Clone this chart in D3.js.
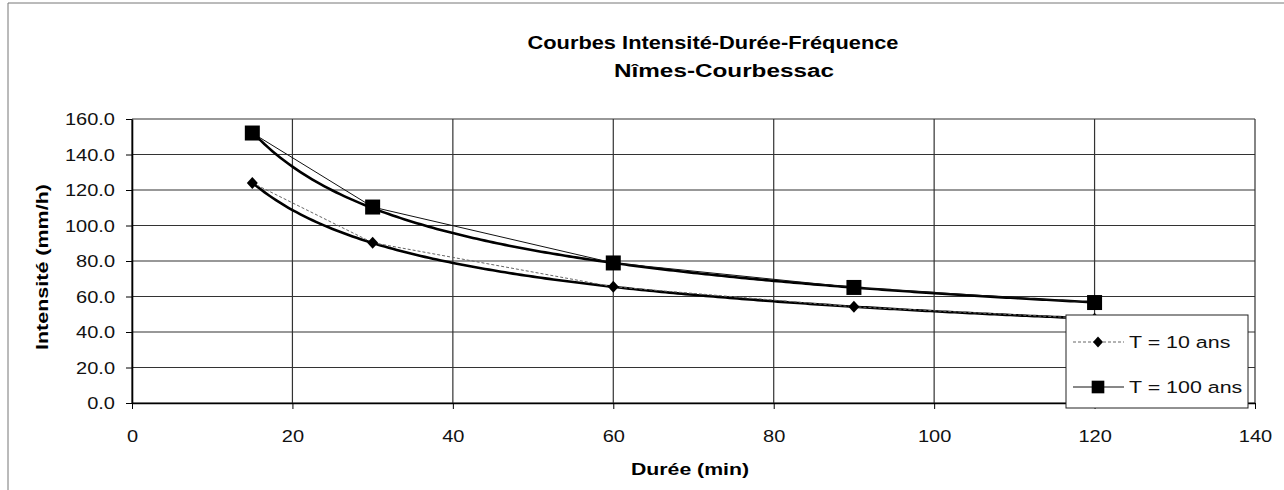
<!DOCTYPE html>
<html>
<head>
<meta charset="utf-8">
<script src="https://cdn.jsdelivr.net/npm/d3@7"></script>
<style>
  body { margin: 0; background: #fff; }
  svg { display: block; font-family: "Liberation Sans", Arial, sans-serif; }
</style>
</head>
<body>
<svg id="chart" width="1284" height="490"></svg>
<script>
'use strict';

// values
const durations = [15, 30, 60, 90, 120];
const intensityT10 = [124.0, 90.3, 65.5, 54.2, 47.5];
const intensityT100 = [152.1, 110.4, 78.9, 65.1, 56.6];
const seriesNames = ['T = 10 ans', 'T = 100 ans'];
const xTicks = [0, 20, 40, 60, 80, 100, 120, 140];
const yTicks = [0, 20, 40, 60, 80, 100, 120, 140, 160];

(function() {

const kStretch = 1.25;   // the printed font is wider than Arial

function PowerFit(xs, ys) {
  // least squares on ln(y) = ln(a) + b ln(x), like Excel's power trendline
  const lx = xs.map(Math.log);
  const ly = ys.map(Math.log);
  const mx = d3.mean(lx);
  const my = d3.mean(ly);
  const sxy = d3.sum(lx, function(v, i) { return (v - mx) * (ly[i] - my); });
  const sxx = d3.sum(lx, function(v) { return (v - mx) * (v - mx); });
  const b = sxy / sxx;
  const a = Math.exp(my - b * mx);
  return function(t) { return a * Math.pow(t, b); };
}

function DiamondPath(r) {
  return 'M0,' + (-r) + 'L' + (r - 0.5) + ',0L0,' + r + 'L' + (-(r - 0.5)) + ',0Z';
}

function Main() {
  const svg = d3.select('#chart');
  const left = 132, right = 1255, top = 119, bottom = 403;

  const x = d3.scaleLinear().domain([0, 140]).range([left, right]);
  const y = d3.scaleLinear().domain([0, 160]).range([bottom, top]);

  // outer chart frame (only top and left are inside the scan)
  svg.append('path')
      .attr('d', 'M8,490V3H1284')
      .attr('fill', 'none')
      .attr('stroke', '#777')
      .attr('stroke-width', 1);

  // titles
  svg.append('text')
      .attr('x', 713).attr('y', 49)
      .attr('text-anchor', 'middle')
      .attr('font-size', 18).attr('font-weight', 'bold')
      .attr('textLength', 371).attr('lengthAdjust', 'spacingAndGlyphs')
      .text('Courbes Intensité-Durée-Fréquence');
  svg.append('text')
      .attr('x', 724).attr('y', 77)
      .attr('text-anchor', 'middle')
      .attr('font-size', 18).attr('font-weight', 'bold')
      .attr('textLength', 220).attr('lengthAdjust', 'spacingAndGlyphs')
      .text('Nîmes-Courbessac');

  // grid
  svg.append('g').selectAll('line')
      .data(yTicks)
    .enter().append('line')
      .attr('x1', left).attr('x2', right)
      .attr('y1', function(d) { return y(d); })
      .attr('y2', function(d) { return y(d); })
      .attr('stroke', '#333').attr('stroke-width', 1.2);
  svg.append('g').selectAll('line')
      .data(xTicks)
    .enter().append('line')
      .attr('x1', function(d) { return x(d); })
      .attr('x2', function(d) { return x(d); })
      .attr('y1', top).attr('y2', bottom)
      .attr('stroke', '#333').attr('stroke-width', 1.2);

  // axes
  const yAxis = svg.append('g')
      .attr('transform', 'translate(' + left + ',0)')
      .call(d3.axisLeft(y).tickValues(yTicks).tickFormat(d3.format('.1f'))
          .tickSize(6).tickSizeOuter(0));
  const xAxis = svg.append('g')
      .attr('transform', 'translate(0,' + bottom + ')')
      .call(d3.axisBottom(x).tickValues(xTicks).tickSize(6).tickSizeOuter(0));

  [yAxis, xAxis].forEach(function(g) {
    g.select('.domain').attr('stroke', '#000').attr('stroke-width', 1.6);
    g.selectAll('.tick line').attr('stroke', '#000');
    g.selectAll('.tick text')
        .attr('fill', '#111')
        .attr('font-size', 16)
        .attr('font-family', '"Liberation Sans", Arial, sans-serif')
        .attr('transform', 'scale(' + kStretch + ',1)');
  });
  yAxis.selectAll('.tick text').attr('x', -17 / kStretch).attr('dy', '0.35em');
  xAxis.selectAll('.tick text').attr('y', 28);

  // axis titles
  svg.append('text')
      .attr('transform', 'translate(48,267) rotate(-90)')
      .attr('text-anchor', 'middle')
      .attr('font-size', 17).attr('font-weight', 'bold')
      .attr('textLength', 166).attr('lengthAdjust', 'spacingAndGlyphs')
      .text('Intensité (mm/h)');
  svg.append('text')
      .attr('transform', 'translate(690,475) scale(' + kStretch + ',1)')
      .attr('text-anchor', 'middle')
      .attr('font-size', 17).attr('font-weight', 'bold')
      .text('Durée (min)');

  const series = [
    { name: seriesNames[0], values: intensityT10, stroke: '#666', dash: '3,2',
      marker: DiamondPath(6), legendMarker: DiamondPath(5.5) },
    { name: seriesNames[1], values: intensityT100, stroke: '#111', dash: null,
      marker: d3.symbol(d3.symbolSquare, 225)(), legendMarker: d3.symbol(d3.symbolSquare, 160)() }
  ];

  // power trendlines
  const samples = d3.range(durations[0], durations[durations.length - 1] + 0.5, 0.5);
  series.forEach(function(s) {
    const fit = PowerFit(durations, s.values);
    svg.append('path')
        .attr('d', d3.line()
            .x(function(t) { return x(t); })
            .y(function(t) { return y(fit(t)); })(samples))
        .attr('fill', 'none')
        .attr('stroke', '#000')
        .attr('stroke-width', 2.6);
  });

  // series lines and markers
  series.forEach(function(s) {
    const pts = durations.map(function(t, i) { return [t, s.values[i]]; });
    svg.append('path')
        .attr('d', d3.line()
            .x(function(d) { return x(d[0]); })
            .y(function(d) { return y(d[1]); })(pts))
        .attr('fill', 'none')
        .attr('stroke', s.stroke)
        .attr('stroke-width', 1)
        .attr('stroke-dasharray', s.dash);
    svg.append('g').selectAll('path')
        .data(pts)
      .enter().append('path')
        .attr('d', s.marker)
        .attr('transform', function(d) {
          return 'translate(' + x(d[0]) + ',' + y(d[1]) + ')';
        })
        .attr('fill', '#000');
  });

  // legend
  const legend = svg.append('g').attr('transform', 'translate(1066,315)');
  legend.append('rect')
      .attr('width', 182).attr('height', 93)
      .attr('fill', '#fff')
      .attr('stroke', '#222').attr('stroke-width', 1);
  series.forEach(function(s, i) {
    const row = legend.append('g').attr('transform', 'translate(0,' + (27 + i * 45) + ')');
    row.append('line')
        .attr('x1', 7).attr('x2', 58)
        .attr('stroke', s.stroke).attr('stroke-width', 1)
        .attr('stroke-dasharray', s.dash);
    row.append('path')
        .attr('d', s.legendMarker)
        .attr('transform', 'translate(32,0)')
        .attr('fill', '#000');
    row.append('text')
        .attr('transform', 'translate(63,6) scale(1.26,1)')
        .attr('font-size', 17)
        .attr('fill', '#111')
        .text(s.name);
  });
}

Main();

}) ();
</script>
</body>
</html>
